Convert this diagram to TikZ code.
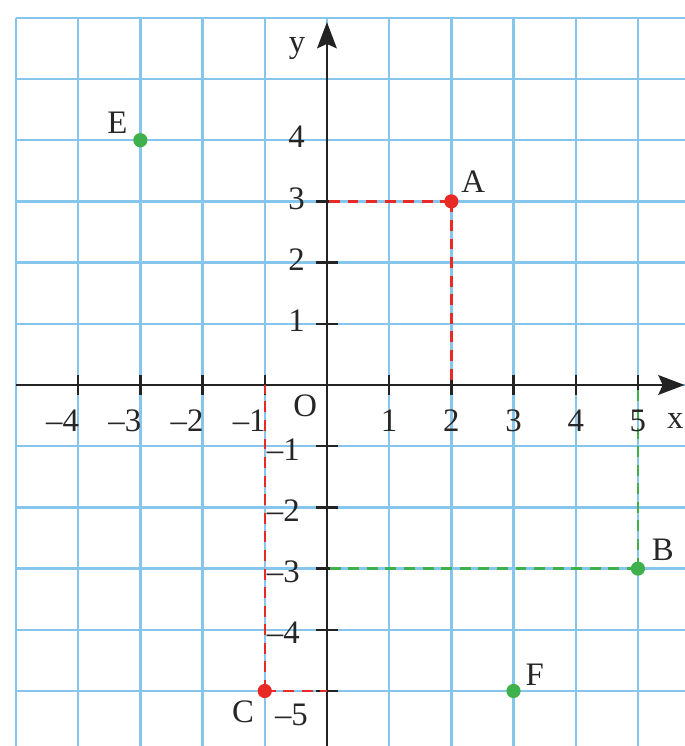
\documentclass[tikz,border=0pt]{standalone}
\usepackage{fontspec}
\setmainfont{Liberation Serif}
\usetikzlibrary{arrows.meta}
\definecolor{gridblue}{RGB}{135,198,236}
\definecolor{ptred}{RGB}{232,42,38}
\definecolor{ptgreen}{RGB}{62,176,76}
\definecolor{axisgray}{RGB}{35,35,35}
\tikzset{
  gridline/.style={draw=gridblue, line width=1.1pt},
  axisline/.style={draw=axisgray, line width=1.1pt},
  axisarrow/.style={axisline, -{Stealth[length=12pt,width=9pt,inset=2pt]}},
  tickline/.style={draw=axisgray, line width=1.1pt},
  reddash/.style={draw=ptred, line width=1.1pt, dash pattern=on 5pt off 3.5pt},
  greendash/.style={draw=ptgreen, line width=1.1pt, dash pattern=on 5pt off 3.5pt},
  reddot/.style={circle, fill=ptred, inner sep=0pt, minimum size=6.5pt},
  greendot/.style={circle, fill=ptgreen, inner sep=0pt, minimum size=6.5pt},
  lbl/.style={inner sep=0pt, text=black!85},
}
\begin{document}
\begin{tikzpicture}[x=1cm, y=0.984cm, font=\fontsize{15}{18}\selectfont]
\useasboundingbox (-5.257,-5.899) rectangle (5.756,6.291);
% grid
\begin{scope}
\clip (-5.257,-5.899) rectangle (5.756,6.291);
\foreach \i in {-5,...,6} \draw[gridline] (\i,-6) -- (\i,6);
\foreach \j in {-6,...,6} \draw[gridline] (-5,\j) -- (6,\j);
\end{scope}
% coordinates
\coordinate (O) at (0,0);
\coordinate (pA) at (2,3);
\coordinate (pB) at (5,-3);
\coordinate (pC) at (-1,-5);
\coordinate (pE) at (-3,4);
\coordinate (pF) at (3,-5);
\coordinate (xs) at (-5,0);
\coordinate (xe) at (5.75,0);
\coordinate (ys) at (0,-5.95);
\coordinate (ye) at (0,5.93);
% axes
\draw[axisarrow] (xs) -- (xe);
\draw[axisarrow] (ys) -- (ye);
\foreach \i in {-4,...,-1,1,2,3,4,5} \draw[tickline] (\i,-0.16) -- (\i,0.16);
\foreach \j in {-5,...,-1,1,2,3} \draw[tickline] (-0.17,\j) -- (0.17,\j);
% dashed projections
\draw[reddash] (pA) -- (pA -| O);
\draw[reddash] (pA) -- (pA |- O);
\draw[reddash] (pC) -- (pC -| O);
\draw[reddash] (pC) -- (pC |- O);
\draw[greendash] (pB) -- (pB -| O);
\draw[greendash] (pB) -- (pB |- O);
% tick labels
\foreach \i in {1,...,5} \node[lbl] (xl\i) at (\i,-0.59) {\i};
\foreach \i in {1,...,4} \node[lbl] (xn\i) at ({-\i-0.25},-0.59) {\textendash\i};
\foreach \j in {1,...,4} \node[lbl, anchor=east] (yl\j) at (-0.35,{\j+0.05}) {\j};
\foreach \j in {1,...,4} \node[lbl, anchor=east] (yn\j) at (-0.43,{-\j-0.05}) {\textendash\j};
\node[lbl, anchor=east] (yn5) at (-0.3,-5.39) {\textendash5};
\node[lbl] (lO) at (-0.35,-0.34) {O};
\node[lbl] (lx) at (5.6,-0.59) {x};
\node[lbl] (ly) at (-0.48,5.49) {y};
% points
\node[reddot] (A) at (pA) {};
\node[greendot] (B) at (pB) {};
\node[reddot] (C) at (pC) {};
\node[greendot] (E) at (pE) {};
\node[greendot] (F) at (pF) {};
\node[lbl] (lA) at (2.35,3.33) {A};
\node[lbl] (lB) at (5.4,-2.69) {B};
\node[lbl] (lC) at (-1.35,-5.34) {C};
\node[lbl] (lE) at (-3.37,4.28) {E};
\node[lbl] (lF) at (3.34,-4.74) {F};
\end{tikzpicture}
\end{document}
